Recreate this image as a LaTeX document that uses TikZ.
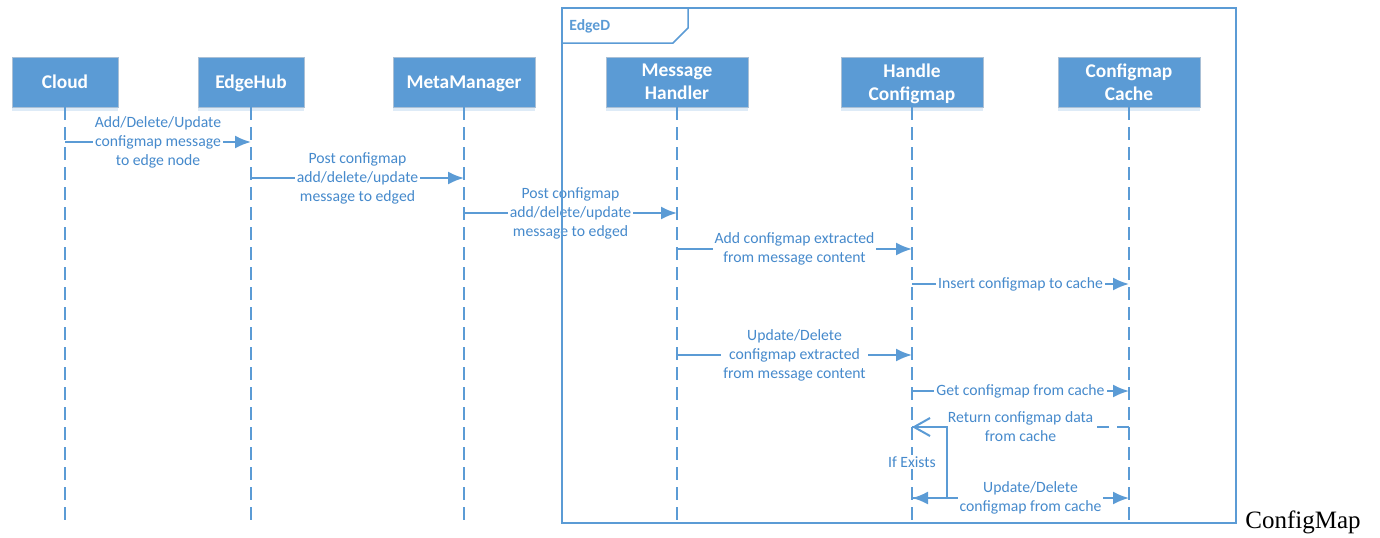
\documentclass[tikz,border=0pt]{standalone}
\usepackage{fontspec}
\setmainfont{Carlito}
\newfontfamily\capfont{Liberation Serif}
\usetikzlibrary{arrows.meta,shadows}
\definecolor{umlblue}{RGB}{91,155,213}
\definecolor{umltext}{RGB}{70,138,204}
\definecolor{umlborder}{RGB}{170,192,214}

\begin{document}
\begin{tikzpicture}[x=0.5pt, y=-0.5pt,
		actor/.style={draw=umlborder, fill=umlblue, text=white, align=center, inner sep=0pt,
			font=\fontsize{9.7}{11.5}\selectfont\bfseries, minimum height=25pt, text depth=0pt,
			drop shadow={opacity=0.2, shadow xshift=0pt, shadow yshift=-2pt, fill=umlblue}},
		lifeline/.style={umlblue, line width=1pt, dash pattern=on 6.5pt off 3.5pt},
		msg/.style={umlblue, line width=1pt, -{Latex[length=8pt,width=6.5pt]}},
		reply/.style={umlblue, line width=1pt, dash pattern=on 6pt off 4pt, -{Straight Barb[length=8pt,width=9pt]}},
		lbl/.style={fill=white, text=umltext, align=center, inner sep=1pt},
		font=\fontsize{7.85}{9.5}\selectfont]
	\useasboundingbox (0,0) rectangle (1380,537);
	% Teilnehmer
	\node[actor, minimum width=53pt] (cloud) at (65,82) {Cloud};
	\node[actor, minimum width=53pt] (hub) at (251,82) {EdgeHub};
	\node[actor, minimum width=71pt] (meta) at (464,82) {MetaManager};
	\node[actor, minimum width=71pt] (mh) at (677,82) {Message\\Handler};
	\node[actor, minimum width=71pt] (hc) at (912,82) {Handle\\Configmap};
	\node[actor, minimum width=71pt] (cache) at (1129,82) {Configmap\\Cache};
	% Lebenslinien
	\coordinate (bottom) at (0,525);
	\foreach \p in {cloud,hub,meta,mh,hc,cache}
		\draw[lifeline] (\p.south) -- (\p.south |- bottom);
	% Zeilen der Nachrichten
	\foreach \n/\y in {1/142,2/178,3/213,4/249,5/284,6/355,7/391,8/427,9/498}
		\coordinate (m\n) at (0,\y);
	\coordinate (loop) at (947,0);
	\coordinate (ifrow) at (0,462);
	% Nachrichten
	\draw[msg] (cloud |- m1) -- node[lbl] {Add/Delete/Update\\configmap message\\to edge node} (hub |- m1);
	\draw[msg] (hub |- m2) -- node[lbl] {Post configmap\\add/delete/update\\message to edged} (meta |- m2);
	\draw[msg] (meta |- m3) -- node[lbl] {Post configmap\\add/delete/update\\message to edged} (mh |- m3);
	\draw[msg] (mh |- m4) -- node[lbl] {Add configmap extracted\\from message content} (hc |- m4);
	\draw[msg] (hc |- m5) -- node[lbl] {Insert configmap to cache} (cache |- m5);
	\draw[msg] (mh |- m6) -- node[lbl] {Update/Delete\\configmap extracted\\from message content} (hc |- m6);
	\draw[msg] (hc |- m7) -- node[lbl] {Get configmap from cache} (cache |- m7);
	\draw[reply] (cache |- m8) -- node[lbl] {Return configmap data\\from cache} (hc |- m8);
	\draw[msg] (hc |- m9) -- node[lbl, xshift=5pt] {Update/Delete\\configmap from cache} (cache |- m9);
	% Schleife
	\draw[msg] (hc |- m8) -- (loop |- m8) |- (hc |- m9);
	\node[lbl] (ifexists) at (hc |- ifrow) {If Exists};
	% Rahmen EdgeD
	\draw[umlblue, line width=0.75pt] (562,8) rectangle (1236,523);
	\draw[umlblue, line width=0.75pt] (562,43) -- (673,43) -- (688,28) -- (688,8);
	\node[text=umlblue, font=\fontsize{7.8}{9}\selectfont\bfseries, anchor=west, inner sep=0pt] (edged) at (569,26) {EdgeD};
	% Beschriftung
	\node[anchor=base west, inner sep=0pt, font=\capfont\fontsize{12.5}{14}\selectfont] (caption) at (1245,528) {ConfigMap};
\end{tikzpicture}
\end{document}
